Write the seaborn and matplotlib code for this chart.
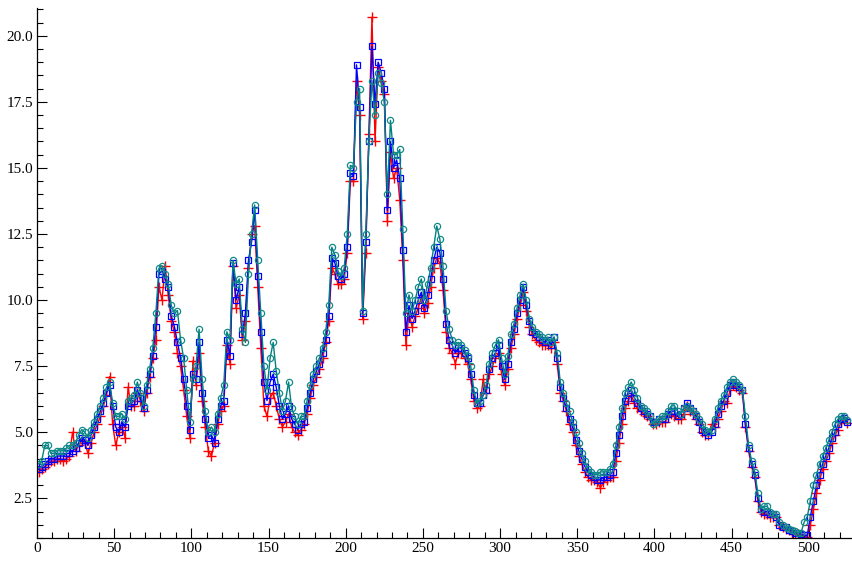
import numpy as np
import matplotlib
matplotlib.use("Agg")
import matplotlib.pyplot as plt
import seaborn as sns
from matplotlib.ticker import MultipleLocator

sns.set_style("ticks")
plt.rcParams["font.family"] = ["Liberation Serif", "DejaVu Serif"]

# x positions of the samples
x = np.arange(1, 526, 2)

# values, 10 per row (20 x units per row)
teal = [
    3.8, 3.9, 4.5, 4.5, 4.2, 4.2, 4.3, 4.3, 4.3, 4.4,
    4.5, 4.5, 4.6, 4.9, 5.1, 5.0, 4.8, 5.1, 5.4, 5.7,
    6.0, 6.3, 6.7, 6.9, 6.1, 5.6, 5.6, 5.7, 5.5, 6.2,
    6.3, 6.4, 6.9, 6.5, 6.0, 6.8, 7.4, 8.2, 9.5, 11.2,
    11.3, 11.0, 10.6, 9.8, 9.5, 9.6, 8.5, 7.8, 6.6, 5.4,
    7.0, 7.5, 8.9, 7.0, 5.8, 5.0, 5.2, 5.0, 5.7, 6.3,
    6.8, 8.8, 8.5, 11.5, 10.6, 10.8, 8.9, 8.4, 11.0, 12.5,
    13.6, 11.5, 9.5, 7.5, 6.6, 7.8, 8.4, 7.3, 6.5, 5.8,
    6.2, 6.9, 5.9, 5.6, 5.3, 5.6, 5.6, 6.2, 6.8, 7.2,
    7.5, 7.8, 8.2, 8.8, 9.8, 12.0, 11.7, 11.1, 10.9, 11.2,
    12.5, 15.1, 15.0, 17.5, 18.0, 9.6, 12.5, 16.0, 18.3, 17.0,
    18.6, 18.2, 17.5, 14.0, 16.8, 15.5, 15.5, 15.7, 12.7, 9.5,
    10.2, 9.6, 10.0, 10.5, 10.8, 10.0, 10.6, 11.2, 12.0, 12.8,
    12.3, 11.3, 9.6, 8.9, 8.5, 8.3, 8.4, 8.3, 8.1, 7.9,
    7.5, 6.6, 6.1, 6.2, 6.4, 6.8, 7.6, 8.0, 8.3, 8.5,
    7.8, 7.2, 7.9, 8.7, 9.1, 9.7, 10.2, 10.6, 10.0, 9.3,
    9.0, 8.8, 8.7, 8.6, 8.5, 8.6, 8.4, 8.6, 8.0, 6.9,
    6.5, 6.1, 5.8, 5.4, 5.0, 4.6, 4.2, 3.9, 3.6, 3.5,
    3.4, 3.4, 3.5, 3.5, 3.5, 3.6, 3.8, 4.5, 5.2, 5.9,
    6.5, 6.7, 6.9, 6.6, 6.3, 6.0, 5.9, 5.8, 5.6, 5.3,
    5.4, 5.5, 5.6, 5.6, 5.8, 6.0, 6.0, 5.8, 5.7, 5.9,
    6.0, 5.9, 5.8, 5.7, 5.5, 5.3, 5.1, 5.0, 5.1, 5.5,
    5.9, 6.2, 6.4, 6.7, 6.9, 7.0, 6.9, 6.8, 6.6, 5.6,
    4.5, 3.9, 3.5, 2.7, 2.1, 2.2, 2.2, 2.0, 1.9, 1.9,
    1.6, 1.5, 1.4, 1.35, 1.3, 1.25, 1.2, 1.2, 1.6, 1.8,
    2.4, 3.0, 3.4, 3.8, 4.1, 4.4, 4.7, 5.0, 5.3, 5.5,
    5.6, 5.6, 5.45,
]

blue = [
    3.6, 3.7, 3.8, 3.9, 4.0, 4.0, 4.1, 4.1, 4.1, 4.2,
    4.2, 4.3, 4.4, 4.6, 4.8, 4.7, 4.5, 4.9, 5.2, 5.5,
    5.8, 6.1, 6.5, 6.8, 6.0, 5.2, 5.0, 5.4, 5.2, 6.0,
    6.1, 6.2, 6.6, 6.3, 5.9, 6.6, 7.2, 7.9, 9.0, 11.0,
    11.1, 10.8, 10.5, 9.4, 9.0, 8.4, 7.8, 7.0, 6.0, 5.1,
    7.2, 7.0, 8.4, 6.5, 5.5, 4.8, 4.9, 4.6, 5.5, 6.0,
    6.2, 8.5, 7.9, 11.4, 10.0, 10.5, 8.7, 9.5, 11.5, 12.2,
    13.4, 10.9, 8.8, 6.9, 6.2, 6.9, 7.2, 6.7, 6.0, 5.5,
    5.7, 6.0, 5.5, 5.3, 5.1, 5.3, 5.4, 5.9, 6.5, 7.0,
    7.3, 7.6, 8.0, 8.5, 9.4, 11.6, 11.4, 10.9, 10.8, 11.0,
    12.0, 14.8, 14.7, 18.9, 17.3, 9.5, 12.2, 16.0, 19.6, 17.4,
    19.0, 18.6, 18.0, 13.4, 16.0, 15.0, 15.3, 14.6, 11.9, 8.8,
    9.8, 9.3, 9.6, 10.0, 10.3, 9.7, 10.2, 10.8, 11.5, 12.0,
    11.8, 10.8, 9.1, 8.5, 8.3, 8.0, 8.2, 8.2, 8.0, 7.8,
    7.2, 6.4, 6.1, 6.1, 6.4, 6.6, 7.4, 7.8, 8.0, 8.3,
    7.5, 7.0, 7.6, 8.4, 8.9, 9.5, 10.0, 10.5, 9.8, 9.2,
    8.8, 8.7, 8.6, 8.5, 8.4, 8.5, 8.3, 8.6, 7.8, 6.7,
    6.3, 5.9, 5.5, 5.2, 4.7, 4.3, 4.0, 3.7, 3.5, 3.4,
    3.3, 3.2, 3.2, 3.3, 3.3, 3.4, 3.5, 4.2, 4.9, 5.6,
    6.2, 6.5, 6.6, 6.3, 6.1, 5.9, 5.8, 5.7, 5.6, 5.4,
    5.4, 5.5, 5.5, 5.5, 5.7, 5.8, 5.8, 5.6, 5.7, 5.9,
    6.1, 5.9, 5.8, 5.6, 5.4, 5.1, 5.0, 4.9, 5.0, 5.3,
    5.7, 6.0, 6.2, 6.5, 6.8, 6.9, 6.8, 6.7, 6.6, 5.3,
    4.4, 3.8, 3.4, 2.5, 2.1, 2.0, 2.0, 1.9, 1.9, 1.8,
    1.5, 1.4, 1.4, 1.3, 1.25, 1.2, 1.2, 1.15, 1.1, 1.1,
    1.8, 2.4, 3.0, 3.4, 3.8, 4.1, 4.4, 4.8, 5.0, 5.3,
    5.5, 5.55, 5.4,
]

red = [
    3.5, 3.6, 3.7, 3.8, 3.9, 3.9, 4.0, 4.0, 3.9, 4.0,
    4.1, 5.0, 4.3, 4.5, 4.7, 4.6, 4.2, 4.6, 5.0, 5.3,
    5.6, 6.0, 6.4, 7.1, 5.3, 4.5, 5.0, 5.2, 4.8, 6.7,
    6.0, 6.0, 6.5, 6.2, 5.8, 6.5, 7.1, 7.8, 8.5, 10.5,
    10.0, 11.3, 10.2, 9.2, 8.8, 8.0, 7.5, 6.6, 5.6, 4.8,
    7.7, 6.8, 8.0, 6.2, 5.2, 4.3, 4.1, 4.6, 5.3, 5.8,
    6.0, 8.3, 7.6, 11.3, 9.7, 10.2, 8.5, 9.2, 11.2, 12.5,
    12.8, 10.5, 8.2, 6.0, 5.6, 6.3, 6.5, 6.0, 5.5, 5.2,
    5.4, 5.7, 5.2, 5.0, 4.9, 5.1, 5.3, 5.7, 6.3, 6.8,
    7.1, 7.4, 7.8, 8.4, 9.2, 11.2, 11.0, 10.6, 10.6, 10.8,
    11.8, 14.5, 14.5, 18.3, 17.0, 9.3, 11.8, 16.3, 20.7, 16.0,
    18.8, 18.3, 17.8, 13.0, 15.6, 14.6, 15.0, 13.8, 11.5, 8.3,
    9.5, 9.0, 9.4, 9.7, 10.1, 9.5, 9.9, 10.5, 11.2, 11.6,
    11.4, 10.4, 8.8, 8.2, 8.0, 7.6, 8.0, 8.0, 7.8, 7.6,
    7.0, 6.2, 5.9, 6.0, 7.0, 6.5, 7.2, 7.5, 7.8, 8.0,
    7.2, 6.8, 7.4, 8.2, 8.7, 9.3, 9.8, 10.3, 9.6, 9.0,
    8.7, 8.5, 8.4, 8.3, 8.3, 8.3, 8.2, 8.4, 7.6, 6.5,
    6.2, 5.8, 5.3, 5.0, 4.5, 4.1, 3.8, 3.5, 3.3, 3.2,
    3.2, 3.1, 2.9, 3.1, 3.2, 3.3, 3.3, 3.9, 4.6, 5.3,
    5.9, 6.2, 6.4, 6.1, 5.9, 5.8, 5.7, 5.6, 5.5, 5.3,
    5.3, 5.4, 5.4, 5.4, 5.6, 5.7, 5.6, 5.5, 5.5, 5.7,
    6.0, 5.8, 5.7, 5.5, 5.3, 5.0, 4.9, 4.9, 5.3, 5.2,
    5.5, 5.8, 6.2, 6.1, 6.6, 6.8, 6.7, 6.6, 6.5, 5.2,
    4.3, 3.7, 3.3, 2.4, 2.0, 1.9, 1.9, 1.8, 1.8, 1.8,
    1.5, 1.4, 1.35, 1.3, 1.2, 1.15, 1.15, 1.1, 1.05, 1.05,
    1.5, 2.1, 2.7, 3.2, 3.6, 3.9, 4.2, 4.6, 4.9, 5.1,
    5.4, 5.5, 5.35,
]

fig = plt.figure(figsize=(8.52, 5.61), dpi=100)
ax = fig.add_axes([37 / 852, 23 / 561, 815 / 852, 530 / 561])

sns.lineplot(x=x, y=red, ax=ax, color="red", linewidth=1, marker="+",
             markersize=7, markeredgecolor="red", markeredgewidth=1,
             estimator=None)
sns.lineplot(x=x, y=blue, ax=ax, color="blue", linewidth=1, marker="s",
             markersize=5, markerfacecolor="none", markeredgecolor="blue",
             markeredgewidth=0.9, estimator=None)
sns.lineplot(x=x, y=teal, ax=ax, color="#008080", linewidth=1, marker="o",
             markersize=4.5, markerfacecolor="none", markeredgecolor="#138a8a",
             markeredgewidth=0.9, estimator=None)

ax.set_xlim(0, 528)
ax.set_ylim(1.0, 21.05)
ax.xaxis.set_major_locator(MultipleLocator(50))
ax.xaxis.set_minor_locator(MultipleLocator(10))
ax.yaxis.set_major_locator(MultipleLocator(2.5))
ax.yaxis.set_minor_locator(MultipleLocator(0.5))
ax.tick_params(which="both", direction="in", width=0.8, colors="black",
               labelsize=11)
ax.tick_params(which="major", length=7, pad=3)
ax.tick_params(which="minor", length=4)
ax.set_xlabel("")
ax.set_ylabel("")

sns.despine(ax=ax)
for side in ["left", "bottom"]:
    ax.spines[side].set_linewidth(0.9)
    ax.spines[side].set_color("black")

fig.savefig("out.png", dpi=100)
